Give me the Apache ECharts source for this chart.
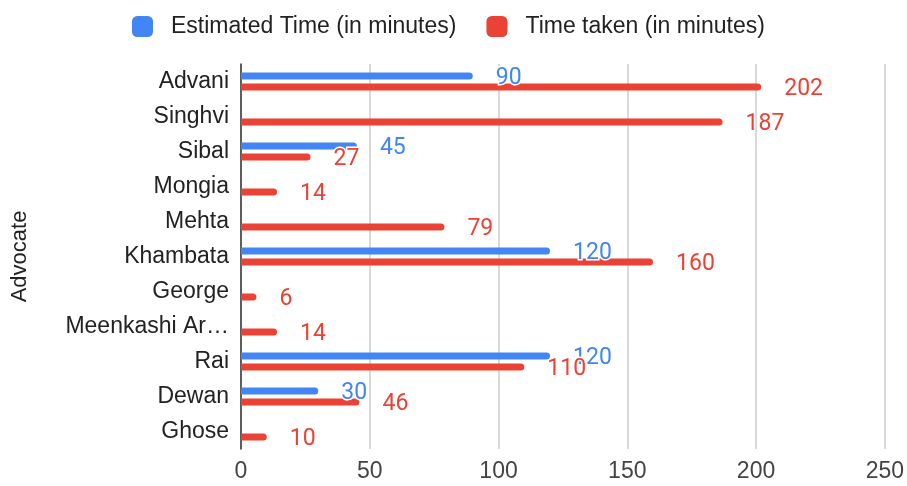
<!DOCTYPE html>
<html>
<head>
<meta charset="utf-8">
<script src="https://cdn.jsdelivr.net/npm/echarts@6/dist/echarts.min.js"></script>
<style>
  html, body { margin: 0; padding: 0; background: #fff; }
  #chart { width: 907px; height: 486px; }
</style>
</head>
<body>
<div id="chart"></div>
<script>
// Advocates, top to bottom
const advocates = ['Advani', 'Singhvi', 'Sibal', 'Mongia', 'Mehta', 'Khambata', 'George', 'Meenkashi Arora', 'Rai', 'Dewan', 'Ghose'];
// Estimated time (minutes); null where no estimate was given
const estimatedTime = [90, null, 45, null, null, 120, null, null, 120, 30, null];
// Actual time taken (minutes)
const timeTaken = [202, 187, 27, 14, 79, 160, 6, 14, 110, 46, 10];
const xTicks = { min: 0, max: 250, interval: 50 };

const BLUE = '#4285F4';
const RED = '#EA4335';
const AXIS_FONT = '"Liberation Sans", Arial, sans-serif';
const LABEL_FONT = 'Roboto, "Liberation Sans", sans-serif';

function barSeries(name, values, color) {
  return {
    name: name,
    type: 'bar',
    data: values,
    barWidth: 7,
    barGap: '60%',
    itemStyle: { color: color, borderRadius: [0, 3.5, 3.5, 0] },
    label: {
      show: true,
      position: 'right',
      distance: 23,
      offset: [0, 2],
      color: color,
      fontFamily: LABEL_FONT,
      fontSize: 23,
      textBorderColor: '#fff',
      textBorderWidth: 3
    }
  };
}

const chart = echarts.init(document.getElementById('chart'), null, { renderer: 'canvas' });
chart.setOption({
  animation: false,
  backgroundColor: '#fff',
  legend: {
    top: 10,
    left: 127,
    itemWidth: 21,
    itemHeight: 21,
    itemGap: 30,
    icon: 'roundRect',
    textStyle: { fontFamily: AXIS_FONT, fontSize: 23, color: '#222', padding: [0, 0, 0, 13] },
    data: ['Estimated Time (in minutes)', 'Time taken (in minutes)']
  },
  grid: { left: 241, right: 19, top: 64, bottom: 37 },
  xAxis: {
    type: 'value',
    min: xTicks.min,
    max: xTicks.max,
    interval: xTicks.interval,
    axisLine: { show: false },
    axisTick: { show: false },
    axisLabel: { fontFamily: AXIS_FONT, fontSize: 23, color: '#444', margin: 11 },
    splitLine: { show: true, lineStyle: { color: '#ccc', width: 1.5 } }
  },
  yAxis: {
    type: 'category',
    data: advocates,
    inverse: true,
    name: 'Advocate',
    nameLocation: 'middle',
    nameGap: 210,
    nameTextStyle: { fontFamily: AXIS_FONT, fontSize: 22, color: '#222' },
    axisLine: { show: true, lineStyle: { color: '#333', width: 1.5 } },
    axisTick: { show: false },
    axisLabel: {
      fontFamily: AXIS_FONT, fontSize: 23, color: '#222', margin: 12,
      width: 166, overflow: 'truncate', ellipsis: '…'
    }
  },
  series: [
    barSeries('Estimated Time (in minutes)', estimatedTime, BLUE),
    barSeries('Time taken (in minutes)', timeTaken, RED)
  ]
});
</script>
</body>
</html>
